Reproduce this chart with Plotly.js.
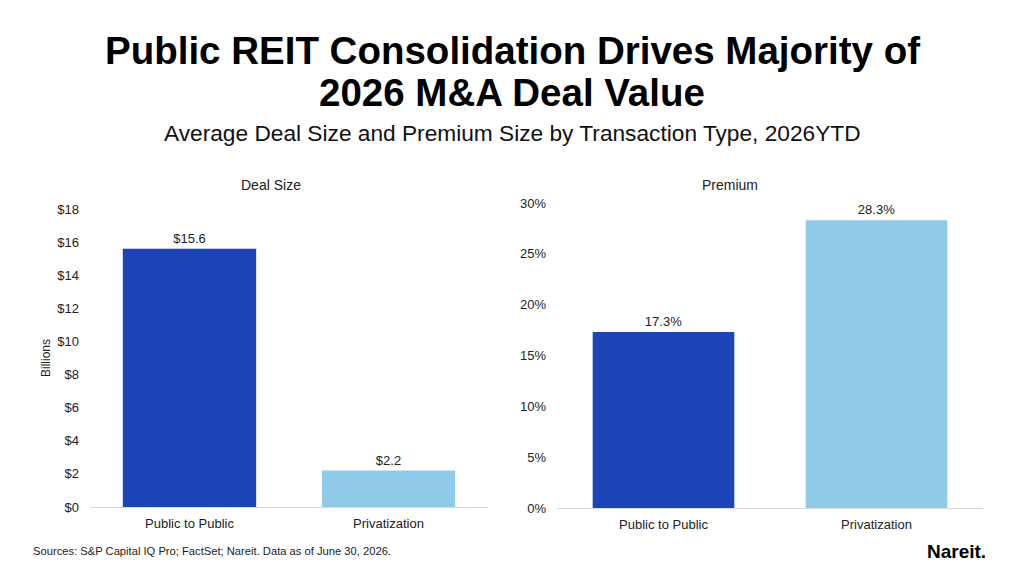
<!DOCTYPE html>
<html>
<head>
<meta charset="utf-8">
<script src="https://cdn.plot.ly/plotly-3.0.1.min.js"></script>
<style>html,body{margin:0;padding:0;background:#fff;}#chart{width:1024px;height:576px;}</style>
</head>
<body>
<div id="chart"></div>
<script>
var categories = ['Public to Public', 'Privatization'];
var dealSize = [15.6, 2.2];          // $ billions
var premium = [0.173, 0.283];        // fraction
var dealTicks = [0, 2, 4, 6, 8, 10, 12, 14, 16, 18];
var dealTickLabels = ['$0', '$2', '$4', '$6', '$8', '$10', '$12', '$14', '$16', '$18'];
var premiumTicks = [0, 0.05, 0.10, 0.15, 0.20, 0.25, 0.30];
var premiumTickLabels = ['0%', '5%', '10%', '15%', '20%', '25%', '30%'];

var barColors = ['#1B44B6', '#8FCBE8'];
var FONT = 'Liberation Sans, Arial, Helvetica, sans-serif';

var traces = [
  {
    type: 'bar', x: categories, y: dealSize, xaxis: 'x', yaxis: 'y',
    marker: {color: barColors}, width: 0.67,
    texttemplate: '$%{y:.1f}', textposition: 'outside', cliponaxis: false,
    textfont: {family: FONT, size: 13, color: '#222'},
    hoverinfo: 'skip', showlegend: false
  },
  {
    type: 'bar', x: categories, y: premium, xaxis: 'x2', yaxis: 'y2',
    marker: {color: barColors}, width: 0.665,
    texttemplate: '%{y:.1%}', textposition: 'outside', cliponaxis: false,
    textfont: {family: FONT, size: 13, color: '#222'},
    hoverinfo: 'skip', showlegend: false
  }
];

var axisFont = {family: FONT, size: 13, color: '#222'};

var layout = {
  width: 1024, height: 576,
  margin: {l: 0, r: 0, t: 0, b: 0},
  paper_bgcolor: '#fff', plot_bgcolor: '#fff',
  font: {family: FONT, color: '#222'},
  xaxis: {
    domain: [90/1024, 488/1024], anchor: 'y',
    showgrid: false, zeroline: false, showline: true, linecolor: '#d9d9d9', linewidth: 1,
    tickfont: axisFont, ticks: '', ticklabelstandoff: 4, fixedrange: true
  },
  yaxis: {
    domain: [69/576, 367/576], anchor: 'x', range: [0, 18],
    tickmode: 'array', tickvals: dealTicks, ticktext: dealTickLabels,
    showgrid: false, zeroline: false, showline: false,
    tickfont: axisFont, ticks: '', ticklabelstandoff: 10,
    title: {text: 'Billions', font: {family: FONT, size: 12, color: '#222'}, standoff: 4},
    fixedrange: true
  },
  xaxis2: {
    domain: [557/1024, 983/1024], anchor: 'y2',
    showgrid: false, zeroline: false, showline: true, linecolor: '#d9d9d9', linewidth: 1,
    tickfont: axisFont, ticks: '', ticklabelstandoff: 4, fixedrange: true
  },
  yaxis2: {
    domain: [68/576, 373/576], anchor: 'x2', range: [0, 0.30],
    tickmode: 'array', tickvals: premiumTicks, ticktext: premiumTickLabels,
    showgrid: false, zeroline: false, showline: false,
    tickfont: axisFont, ticks: '', ticklabelstandoff: 10, fixedrange: true
  },
  annotations: [
    {text: '<b>Public REIT Consolidation Drives Majority of</b>', xref: 'paper', yref: 'paper',
     x: 0.5, y: 1 - 50/576, xanchor: 'center', yanchor: 'middle', showarrow: false,
     font: {family: FONT, size: 38.5, color: '#000'}},
    {text: '<b>2026 M&A Deal Value</b>', xref: 'paper', yref: 'paper',
     x: 0.5, y: 1 - 92/576, xanchor: 'center', yanchor: 'middle', showarrow: false,
     font: {family: FONT, size: 38.5, color: '#000'}},
    {text: 'Average Deal Size and Premium Size by Transaction Type, 2026YTD', xref: 'paper', yref: 'paper',
     x: 0.5, y: 1 - 133/576, xanchor: 'center', yanchor: 'middle', showarrow: false,
     font: {family: FONT, size: 22.7, color: '#111'}},
    {text: 'Deal Size', xref: 'paper', yref: 'paper',
     x: 271/1024, y: 1 - 185/576, xanchor: 'center', yanchor: 'middle', showarrow: false,
     font: {family: FONT, size: 14, color: '#222'}},
    {text: 'Premium', xref: 'paper', yref: 'paper',
     x: 730/1024, y: 1 - 185/576, xanchor: 'center', yanchor: 'middle', showarrow: false,
     font: {family: FONT, size: 14, color: '#222'}},
    {text: 'Sources: S&P Capital IQ Pro; FactSet; Nareit. Data as of June 30, 2026.', xref: 'paper', yref: 'paper',
     x: 31/1024, y: 1 - 551/576, xanchor: 'left', yanchor: 'middle', showarrow: false,
     font: {family: FONT, size: 11.2, color: '#222'}},
    {text: '<b>Nareit.</b>', xref: 'paper', yref: 'paper',
     x: 988/1024, y: 1 - 551/576, xanchor: 'right', yanchor: 'middle', showarrow: false,
     font: {family: FONT, size: 19, color: '#000'}}
  ]
};

Plotly.newPlot('chart', traces, layout, {displayModeBar: false, staticPlot: true});
</script>
</body>
</html>
